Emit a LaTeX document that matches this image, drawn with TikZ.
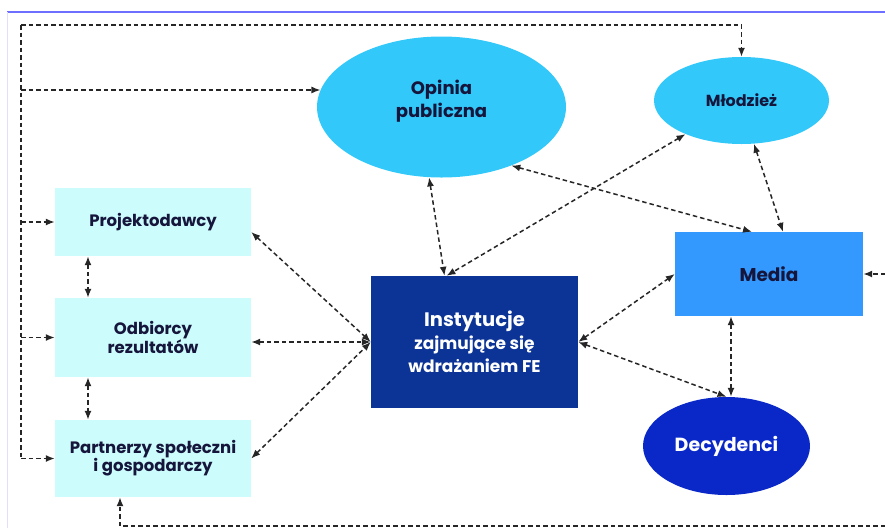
\documentclass[tikz,border=0pt]{standalone}
\usepackage{fontspec}
\setmainfont{Poppins}
\usetikzlibrary{arrows.meta, shapes.geometric}

\definecolor{skyfill}{RGB}{50,200,250}
\definecolor{palefill}{RGB}{204,252,252}
\definecolor{navyfill}{RGB}{12,52,150}
\definecolor{mediafill}{RGB}{51,153,255}
\definecolor{royalfill}{RGB}{10,40,200}
\definecolor{darktext}{RGB}{22,22,60}
\definecolor{frameblue}{RGB}{110,110,255}
\definecolor{framelav}{RGB}{224,224,250}

\tikzset{
	boxfont/.style={font=\bfseries\fontsize{#1}{18}\selectfont},
	actor/.style={rectangle, fill=palefill, text=darktext, boxfont=16.5, align=center,
		minimum width=196pt, inner sep=0pt},
	crowd/.style={ellipse, fill=skyfill, text=darktext, align=center, inner sep=0pt},
	link/.style={dash pattern=on 4.5pt off 3pt, line width=1.5pt, black!85},
	>={Latex[length=9pt,width=7pt]}
}

\begin{document}
\begin{tikzpicture}[x=1pt, y=-1pt]
			\useasboundingbox (0,0) rectangle (885,528);
			
			% frame of the slide
			\draw[frameblue, line width=1.2pt] (7,12) -- (885,12);
			\draw[framelav, line width=1pt] (7,12) -- (7,528);
			
			% left column
			\node[actor, minimum height=68pt] (projekt) at (153,222) {Projektodawcy};
			\node[actor, minimum height=79pt] (odbiorcy) at (153,337.5) {Odbiorcy\\rezultatów};
			\node[actor, minimum height=77pt] (partnerzy) at (153,458.5) {Partnerzy społeczni\\i gospodarczy};
			
			% public
			\node[crowd, minimum width=249pt, minimum height=141pt] (opinia) at (441.5,107) {};
			\node[font=\bfseries\fontsize{18}{23}\selectfont, text=darktext, align=center, inner sep=0pt]
				(opiniatxt) at ([yshift=6pt]opinia.center) {Opinia\\publiczna};
			\node[crowd, boxfont=16, minimum width=175pt, minimum height=87pt] (mlodziez) at (741.5,100.5) {Młodzież};
			
			\node[rectangle, fill=navyfill, text=white, align=center, inner sep=0pt,
				font=\bfseries\fontsize{19.5}{23}\selectfont,
				minimum width=207pt, minimum height=132pt] (instytucje) at (474.5,342)
				{Instytucje\\ \fontsize{17}{23}\selectfont zajmujące się\\ \fontsize{17}{22}\selectfont wdrażaniem FE};
			\node[rectangle, fill=mediafill, text=darktext, boxfont=18.5, inner sep=0pt,
				minimum width=188pt, minimum height=84pt] (media) at (769,274) {Media};
			\node[ellipse, fill=royalfill, text=white, boxfont=19, inner sep=0pt,
				minimum width=167pt, minimum height=98pt] (decydenci) at (726.5,446) {Decydenci};
			
			% outer feedback lines
			\coordinate (topl) at (21,25);
			\coordinate (botr) at (885,526);
			\coordinate (botl) at (120,526);
			\coordinate (rgt) at (885,274);
			
			\begin{scope}[link, ->]
				\draw (topl) -| (mlodziez.north);
				\draw[-] (topl) -- (topl |- partnerzy.west);
				\draw (topl |- opinia.172) -- (opinia.172);
				\draw (topl |- projekt.west) -- (projekt.west);
				\draw (topl |- odbiorcy.west) -- (odbiorcy.west);
				\draw (topl |- partnerzy.west) -- (partnerzy.west);
				\draw (botr) -- (botl) -- (botl |- partnerzy.south);
				\draw (rgt) -- (media.east);
			\end{scope}
			
			% two way links
			\begin{scope}[link, <->]
				\draw ([xshift=-65pt]projekt.south) -- ([xshift=-65pt]odbiorcy.north);
				\draw ([xshift=-65pt]odbiorcy.south) -- ([xshift=-65pt]partnerzy.north);
				\draw ([yshift=-10pt]projekt.east) -- (instytucje.west);
				\draw (odbiorcy.east |- instytucje.west) -- (instytucje.west);
				\draw (partnerzy.east) -- (instytucje.west);
				\draw (opinia.260) -- ([xshift=-30pt]instytucje.north);
				\draw (mlodziez.211) -- ([xshift=-28pt]instytucje.north);
				\draw (opinia.320) -- ([xshift=-17pt]media.north);
				\draw (mlodziez.286) -- ([xshift=14pt]media.north);
				\draw (instytucje.east) -- (media.west);
				\draw (instytucje.east) -- (decydenci.north);
				\draw ([xshift=-38pt]media.south) -- ([xshift=-38pt]media.south |- decydenci.north);
			\end{scope}
		\end{tikzpicture}
\end{document}
